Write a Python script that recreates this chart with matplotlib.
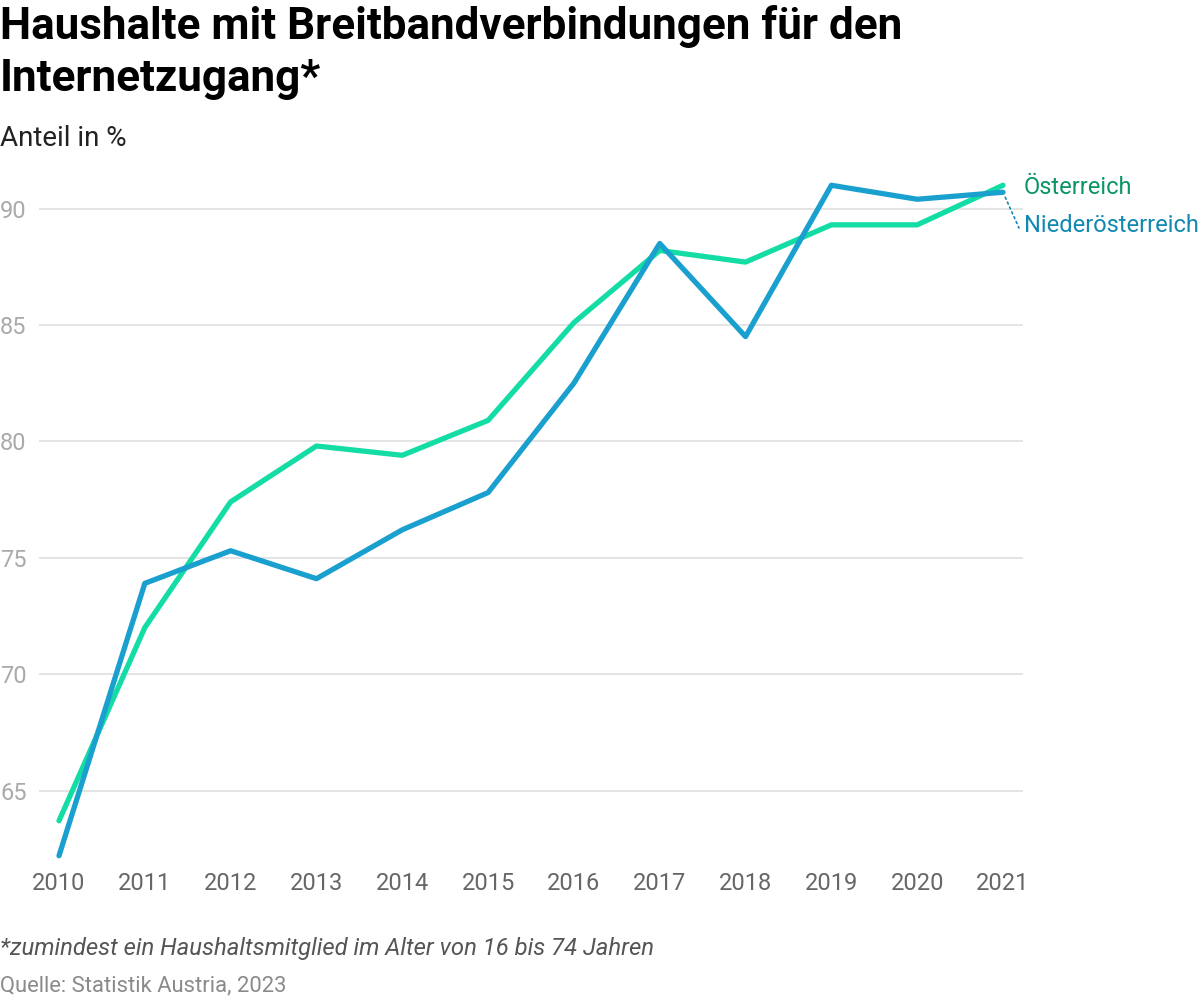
import matplotlib
matplotlib.use("Agg")
import matplotlib.pyplot as plt

plt.rcParams['font.family'] = ['Roboto', 'DejaVu Sans']

years = [2010, 2011, 2012, 2013, 2014, 2015, 2016, 2017, 2018, 2019, 2020, 2021]
oesterreich = [63.7, 72.0, 77.4, 79.8, 79.4, 80.9, 85.1, 88.2, 87.7, 89.3, 89.3, 91.0]
niederoesterreich = [62.2, 73.9, 75.3, 74.1, 76.2, 77.8, 82.5, 88.5, 84.5, 91.0, 90.4, 90.7]
yticks = [65, 70, 75, 80, 85, 90]

title = "Haushalte mit Breitbandverbindungen für den\nInternetzugang*"
subtitle = "Anteil in %"
footnote = "*zumindest ein Haushaltsmitglied im Alter von 16 bis 74 Jahren"
source = "Quelle: Statistik Austria, 2023"

green = "#14dca5"
blue = "#1aa0cf"
green_lbl = "#0a9563"
blue_lbl = "#1088b0"

W, H = 1200, 1000
fig = plt.figure(figsize=(12, 10), dpi=100)

# axes in pixel coords: left 39, right 1023, top 162, bottom 872
l, r, t, b = 39, 1023, 162, 872
ax = fig.add_axes([l / W, 1 - b / H, (r - l) / W, (b - t) / H])
ax.set_xlim(2009.767, 2021.233)
ax.set_ylim(61.5, 92)

for s in ax.spines.values():
    s.set_visible(False)
ax.set_yticks(yticks)
ax.set_xticks(years)
ax.set_xticklabels([str(y) for y in years])
ax.grid(axis='y', color='#e2e2e2', linewidth=1.3)
ax.set_axisbelow(True)
ax.tick_params(axis='both', length=0)
ax.tick_params(axis='x', labelsize=17, labelcolor='#666666', pad=0)
ax.tick_params(axis='y', labelsize=17, labelcolor='#aaaaaa', pad=0)
for lab in ax.get_yticklabels():
    lab.set_horizontalalignment('left')
    lab.set_x(-39 / (r - l))

ax.plot(years, oesterreich, color=green, linewidth=3.8, solid_capstyle='round',
        solid_joinstyle='round', zorder=3)
ax.plot(years, niederoesterreich, color=blue, linewidth=3.8, solid_capstyle='round',
        solid_joinstyle='round', zorder=4)

# end labels
fig.text(1024 / W, 1 - 187 / H, "Österreich", fontsize=17, color=green_lbl,
         va='center', ha='left')
fig.text(1024 / W, 1 - 225 / H, "Niederösterreich", fontsize=17, color=blue_lbl,
         va='center', ha='left')
ax.annotate("", xy=(1019, H - 228), xycoords='figure pixels',
            xytext=(years[-1], niederoesterreich[-1]), textcoords='data',
            annotation_clip=False,
            arrowprops=dict(arrowstyle='-', color=blue_lbl, linestyle=(0, (1.2, 2)),
                            linewidth=1.2, shrinkA=4, shrinkB=0))

fig.text(0.0, 1 - 5 / H, title, fontsize=31.7, fontweight='bold', color='#000000',
         va='top', ha='left', linespacing=1.3)
fig.text(0.0, 1 - 139 / H, subtitle, fontsize=20, color='#222222', va='center', ha='left')
fig.text(0.0, 1 - 949 / H, footnote, fontsize=17.2, style='italic', color='#555555',
         va='center', ha='left')
fig.text(0.0, 1 - 986 / H, source, fontsize=15.8, color='#8a8a8a', va='center', ha='left')

fig.savefig("out.png", dpi=100, facecolor='white')
